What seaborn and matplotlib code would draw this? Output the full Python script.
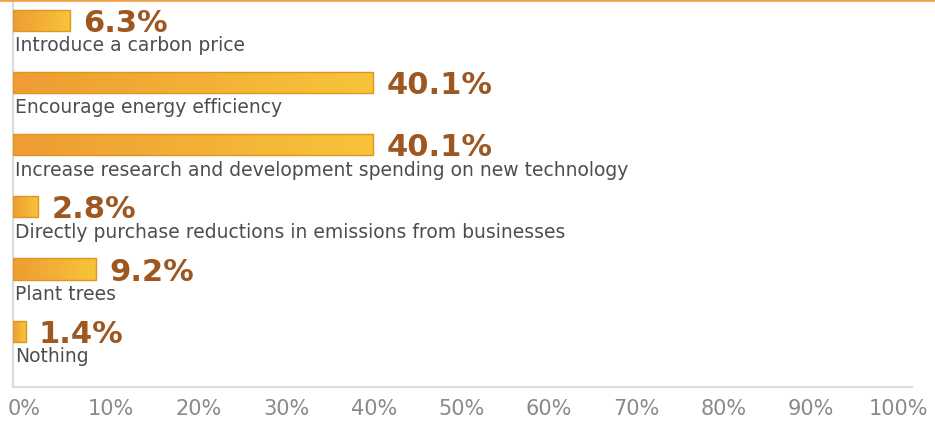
import numpy as np
import pandas as pd
import matplotlib
matplotlib.use("Agg")
import matplotlib.pyplot as plt
from matplotlib.colors import LinearSegmentedColormap
import seaborn as sns

categories = [
    "Introduce a carbon price",
    "Encourage energy efficiency",
    "Increase research and development spending on new technology",
    "Directly purchase reductions in emissions from businesses",
    "Plant trees",
    "Nothing",
]
shares = [6.3, 40.1, 40.1, 2.8, 9.2, 1.4]
tick_values = [0, 10, 20, 30, 40, 50, 60, 70, 80, 90, 100]
tick_labels = [f"{v}%" for v in tick_values]

df = pd.DataFrame({"option": categories, "share": shares})

sns.set_theme(style="white")
plt.rcParams["font.family"] = ["DejaVu Sans"]

W, H, DPI = 935, 427, 100
fig = plt.figure(figsize=(W / DPI, H / DPI), dpi=DPI)
ax = fig.add_axes([13 / W, 39 / H, (912 - 13) / W, (H - 39) / H])

sns.barplot(data=df, y="option", x="share", orient="h", ax=ax,
            color="#f2b233", width=0.34, saturation=1,
            edgecolor="#e0951f", linewidth=1.0)

# orange-to-yellow gradient inside each bar
grad = LinearSegmentedColormap.from_list("bar", ["#ee9c33", "#f7c43a"])
ramp = np.linspace(0, 1, 256).reshape(1, -1)
for patch in ax.patches:
    x0, y0 = patch.get_x(), patch.get_y()
    w, h = patch.get_width(), patch.get_height()
    im = ax.imshow(ramp, cmap=grad, aspect="auto",
                   extent=(x0, x0 + w, y0 + h, y0), zorder=2.5,
                   interpolation="bilinear")
    im.set_clip_path(patch)
    patch.set_facecolor("none")
    patch.set_zorder(3)

ax.set_xlim(0, 100)
ax.set_ylim(5.9, -0.346)

# value labels and category captions
for i, (cat, val) in enumerate(zip(categories, shares)):
    ax.annotate(f"{val}%", xy=(val, i), xytext=(9.5, -7.6), textcoords="offset points",
                ha="left", va="baseline", fontsize=22, fontweight="bold",
                color="#9e5720", zorder=5)
    ax.annotate(cat, xy=(0, i), xytext=(1.5, -21.5), textcoords="offset points",
                ha="left", va="baseline", fontsize=13.5, color="#4d4d4d", zorder=5)

ax.set_yticks([])
ax.set_ylabel("")
ax.set_xlabel("")
ax.set_xticks(np.linspace(1.2, 98.5, len(tick_values)))
ax.set_xticklabels(tick_labels, fontsize=15, color="#8a8a8a")
ax.tick_params(axis="x", length=0, pad=8)

for side in ["top", "right"]:
    ax.spines[side].set_visible(False)
for side in ["left", "bottom"]:
    ax.spines[side].set_color("#dcdcdc")
    ax.spines[side].set_linewidth(1.6)

# orange rule along the top edge
fig.add_artist(plt.Line2D([0, 1], [1 - 1 / H, 1 - 1 / H], transform=fig.transFigure,
                          color="#f0a24a", linewidth=2.0))

fig.savefig("out.png", dpi=DPI)
